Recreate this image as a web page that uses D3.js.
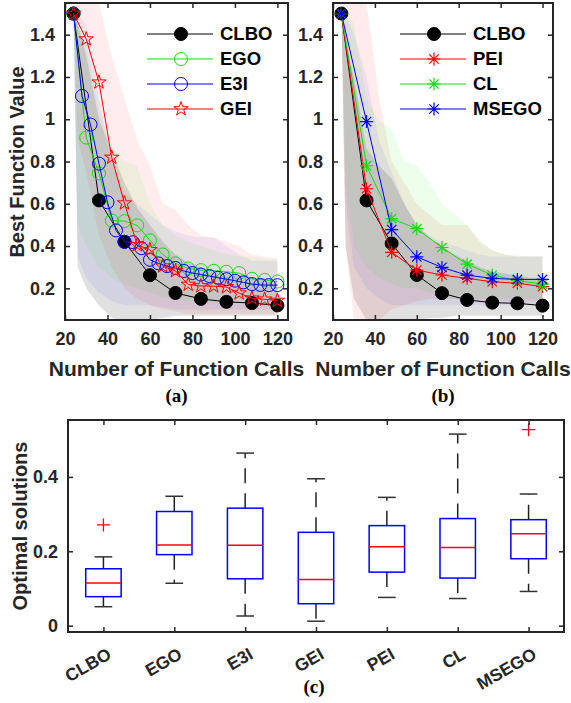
<!DOCTYPE html>
<html>
<head>
<meta charset="utf-8">
<script src="https://cdn.jsdelivr.net/npm/d3@7"></script>
<style>
  body { margin: 0; background: #fff; }
  svg { display: block; font-family: "Liberation Sans", Arial, sans-serif; }
</style>
</head>
<body>
<svg width="571" height="703"></svg>
<script>
// ---- data ----
const calls12 = [24, 36, 48, 60, 72, 84, 96, 108, 120];
const calls6 = [24, 30, 36, 42, 48, 54, 60, 66, 72, 78, 84, 90, 96, 102, 108, 114, 120];
const calls4 = [24, 28, 32, 36, 40, 44, 48, 52, 56, 60, 64, 68, 72, 76, 80, 84, 88, 92, 96, 100, 104, 108, 112, 116, 120];
const bandCalls = [24, 26, 30, 36, 42, 48, 54, 60, 66, 72, 78, 84, 90, 96, 102, 108, 114, 120];

// panel (a)
const clboA = [1.5, 0.616, 0.42, 0.262, 0.178, 0.15, 0.136, 0.13, 0.119];
const egoA = [1.5, 0.913, 0.744, 0.521, 0.518, 0.498, 0.427, 0.36, 0.318, 0.294, 0.286, 0.283, 0.278, 0.272, 0.245, 0.24, 0.232];
const e3iA = [1.5, 1.11, 0.975, 0.79, 0.607, 0.474, 0.42, 0.418, 0.39, 0.335, 0.318, 0.305, 0.296, 0.282, 0.272, 0.265, 0.258, 0.25, 0.243, 0.236, 0.228, 0.22, 0.216, 0.215, 0.215];
const geiA = [1.5, 1.379, 1.175, 0.819, 0.603, 0.405, 0.382, 0.305, 0.282, 0.218, 0.211, 0.21, 0.206, 0.177, 0.153, 0.148, 0.142];

const clboAHi = [1.5, 1.45, 1.3, 1.0, 0.85, 0.7, 0.58, 0.5, 0.42, 0.36, 0.32, 0.3, 0.28, 0.27, 0.26, 0.25, 0.24, 0.23];
const clboALo = [1.5, 0.3, 0.2, 0.12, 0.06, 0.04, 0.04, 0.05, 0.06, 0.07, 0.07, 0.07, 0.07, 0.07, 0.07, 0.07, 0.07, 0.07];
const egoAHi = [1.5, 1.45, 1.35, 1.05, 0.85, 0.8, 0.78, 0.6, 0.5, 0.45, 0.42, 0.4, 0.38, 0.36, 0.35, 0.35, 0.34, 0.34];
const egoALo = [1.5, 0.5, 0.4, 0.3, 0.25, 0.22, 0.2, 0.18, 0.16, 0.15, 0.14, 0.14, 0.13, 0.13, 0.13, 0.12, 0.12, 0.12];
const e3iAHi = [1.5, 1.5, 1.45, 1.1, 0.8, 0.65, 0.6, 0.55, 0.5, 0.47, 0.45, 0.44, 0.44, 0.4, 0.36, 0.33, 0.33, 0.33];
const e3iALo = [1.5, 0.35, 0.25, 0.18, 0.14, 0.12, 0.12, 0.12, 0.11, 0.1, 0.1, 0.1, 0.1, 0.1, 0.1, 0.1, 0.1, 0.1];
const geiAHi = [1.55, 1.55, 1.55, 1.55, 1.3, 1.1, 0.9, 0.78, 0.6, 0.57, 0.5, 0.45, 0.44, 0.42, 0.4, 0.36, 0.35, 0.34];
const geiALo = [1.5, 0.9, 0.75, 0.45, 0.3, 0.2, 0.15, 0.12, 0.1, 0.09, 0.08, 0.08, 0.08, 0.08, 0.08, 0.08, 0.08, 0.08];

// panel (b)
const clboB = [1.5, 0.616, 0.412, 0.263, 0.177, 0.145, 0.132, 0.129, 0.118];
const peiB = [1.5, 0.671, 0.37, 0.286, 0.263, 0.247, 0.231, 0.224, 0.208];
const clB = [1.5, 0.78, 0.53, 0.482, 0.393, 0.314, 0.263, 0.236, 0.22];
const msegoB = [1.5, 0.989, 0.478, 0.349, 0.299, 0.262, 0.247, 0.242, 0.242];

const clboBHi = [1.5, 1.35, 1.2, 0.86, 0.78, 0.72, 0.6, 0.5, 0.44, 0.4, 0.36, 0.33, 0.3, 0.28, 0.27, 0.26, 0.25, 0.25];
const clboBLo = [1.5, 0.4, 0.15, 0.05, 0.03, 0.03, 0.04, 0.05, 0.06, 0.06, 0.07, 0.07, 0.07, 0.07, 0.07, 0.07, 0.07, 0.07];
const peiBHi = [1.55, 1.55, 1.55, 1.55, 1.1, 0.8, 0.7, 0.6, 0.55, 0.5, 0.5, 0.5, 0.42, 0.38, 0.36, 0.35, 0.35, 0.35];
const peiBLo = [1.5, 0.4, 0.05, 0.03, 0.05, 0.1, 0.12, 0.14, 0.15, 0.15, 0.15, 0.14, 0.14, 0.14, 0.14, 0.14, 0.14, 0.14];
const clBHi = [1.5, 1.5, 1.45, 1.1, 0.99, 0.95, 0.8, 0.78, 0.7, 0.6, 0.55, 0.5, 0.43, 0.38, 0.36, 0.355, 0.35, 0.35];
const clBLo = [1.5, 0.7, 0.4, 0.3, 0.25, 0.22, 0.2, 0.2, 0.18, 0.16, 0.15, 0.15, 0.15, 0.15, 0.15, 0.15, 0.15, 0.15];
const msegoBHi = [1.5, 1.5, 1.4, 1.2, 0.9, 0.75, 0.6, 0.5, 0.45, 0.42, 0.4, 0.38, 0.36, 0.35, 0.35, 0.35, 0.35, 0.35];
const msegoBLo = [1.5, 0.6, 0.3, 0.2, 0.15, 0.12, 0.12, 0.12, 0.12, 0.12, 0.12, 0.12, 0.12, 0.12, 0.12, 0.12, 0.12, 0.12];

const xTicks = [20, 40, 60, 80, 100, 120];
const yTicks = [0.2, 0.4, 0.6, 0.8, 1, 1.2, 1.4];

// panel (c) box plot stats
const methods = ["CLBO", "EGO", "E3I", "GEI", "PEI", "CL", "MSEGO"];
const whiskerLow = [0.051, 0.114, 0.026, 0.012, 0.076, 0.073, 0.092];
const quart1 = [0.078, 0.191, 0.126, 0.059, 0.144, 0.128, 0.180];
const medians = [0.115, 0.217, 0.216, 0.124, 0.212, 0.210, 0.247];
const quart3 = [0.153, 0.307, 0.316, 0.251, 0.269, 0.288, 0.285];
const whiskerHigh = [0.185, 0.348, 0.464, 0.395, 0.345, 0.515, 0.354];
const outliers = [[0.271], [], [], [], [], [], [0.527]];
const boxTicks = [0, 0.2, 0.4];

// ---- setup ----
const svg = d3.select("svg");
const ink = "#262626";
const GREEN = "#12dd12", BLUE = "#0000ff", RED = "#ff0000", BLACK = "#000000";

// marker drawing helpers
function pentagram(r) {
  const pts = [];
  for (let i = 0; i < 10; i++) {
    const rr = i % 2 === 0 ? r : r * 0.382;
    const a = -Math.PI / 2 + i * Math.PI / 5;
    pts.push([rr * Math.cos(a), rr * Math.sin(a)]);
  }
  return "M" + pts.map(p => p.join(",")).join("L") + "Z";
}
function asterisk(r) {
  const d = r * 0.72;
  return `M${-r},0L${r},0M0,${-r}L0,${r}M${-d},${-d}L${d},${d}M${-d},${d}L${d},${-d}`;
}
function drawMarker(g, x, y, type, color) {
  if (type === "dot") {
    g.append("circle").attr("cx", x).attr("cy", y).attr("r", 6.5).attr("fill", "#000").attr("stroke", "#000");
  } else if (type === "ring") {
    g.append("circle").attr("cx", x).attr("cy", y).attr("r", 6.5).attr("fill", "none").attr("stroke", color).attr("stroke-width", 1);
  } else if (type === "star") {
    g.append("path").attr("d", pentagram(7.5)).attr("transform", `translate(${x},${y})`)
      .attr("fill", "none").attr("stroke", color).attr("stroke-width", 1);
  } else if (type === "ast") {
    g.append("path").attr("d", asterisk(6.5)).attr("transform", `translate(${x},${y})`)
      .attr("fill", "none").attr("stroke", color).attr("stroke-width", 1.2);
  }
}

function convergencePanel(id, left, right, series, legendX) {
  const top = 3, bottom = 320;
  const x = d3.scaleLinear().domain([20, 125]).range([left, right]);
  const y = d3.scaleLinear().domain([0.05, 1.55]).range([bottom, top]);

  svg.append("clipPath").attr("id", "clip" + id)
    .append("rect").attr("x", left).attr("y", top).attr("width", right - left).attr("height", bottom - top);

  const plot = svg.append("g").attr("clip-path", `url(#clip${id})`);

  // shaded ranges
  const area = d3.area()
    .x(d => x(d[0])).y0(d => y(d[1])).y1(d => y(d[2]));
  series.forEach(s => {
    const pts = bandCalls.map((c, i) => [c, s.lo[i], s.hi[i]]);
    plot.append("path").attr("d", area(pts))
      .attr("fill", s.band).attr("fill-opacity", s.alpha);
  });

  // lines + markers
  const line = d3.line().x(d => x(d[0])).y(d => y(d[1]));
  series.forEach(s => {
    const pts = s.calls.map((c, i) => [c, s.vals[i]]);
    plot.append("path").attr("d", line(pts)).attr("fill", "none")
      .attr("stroke", s.color).attr("stroke-width", 1);
    const mg = plot.append("g");
    pts.forEach(p => drawMarker(mg, x(p[0]), y(p[1]), s.marker, s.color));
  });

  // axes with inward ticks on all sides
  const ax = svg.append("g");
  ax.append("g").attr("transform", `translate(0,${bottom})`)
    .call(d3.axisBottom(x).tickValues(xTicks).tickSizeInner(-5).tickSizeOuter(0).tickPadding(12))
    .call(g => g.select(".domain").remove());
  ax.append("g").attr("transform", `translate(0,${top})`)
    .call(d3.axisTop(x).tickValues(xTicks).tickSizeInner(-5).tickSizeOuter(0).tickFormat(""))
    .call(g => g.select(".domain").remove());
  ax.append("g").attr("transform", `translate(${left},0)`)
    .call(d3.axisLeft(y).tickValues(yTicks).tickSizeInner(-5).tickSizeOuter(0).tickPadding(10).tickFormat(d3.format("~g")))
    .call(g => g.select(".domain").remove());
  ax.append("g").attr("transform", `translate(${right},0)`)
    .call(d3.axisRight(y).tickValues(yTicks).tickSizeInner(-5).tickSizeOuter(0).tickFormat(""))
    .call(g => g.select(".domain").remove());
  ax.selectAll(".tick line").attr("stroke", ink).attr("stroke-width", 1.5);
  ax.selectAll(".tick text").attr("fill", ink).attr("font-size", 18).attr("font-weight", "bold")
    .attr("font-family", "Liberation Sans, Arial, sans-serif");
  ax.append("rect").attr("x", left).attr("y", top).attr("width", right - left).attr("height", bottom - top)
    .attr("fill", "none").attr("stroke", ink).attr("stroke-width", 2);

  svg.append("text").attr("x", (left + right) / 2).attr("y", 376).attr("text-anchor", "middle")
    .attr("font-size", 21).attr("font-weight", "bold").attr("fill", ink)
    .text("Number of Function Calls");
  svg.append("text").attr("x", (left + right) / 2).attr("y", 402).attr("text-anchor", "middle")
    .attr("font-family", "Liberation Serif, Times New Roman, serif")
    .attr("font-size", 19).attr("font-weight", "bold").attr("fill", "#000")
    .text(`(${id})`);

  // legend
  const lg = svg.append("g");
  series.forEach((s, i) => {
    const ly = 34 + i * 25;
    lg.append("line").attr("x1", legendX).attr("x2", legendX + 66).attr("y1", ly).attr("y2", ly)
      .attr("stroke", s.color).attr("stroke-width", 1);
    drawMarker(lg, legendX + 34, ly, s.marker, s.color);
    lg.append("text").attr("x", legendX + 73).attr("y", ly).attr("dy", "0.35em")
      .attr("font-size", 18.5).attr("font-weight", "bold").attr("fill", "#000").text(s.name);
  });
}

convergencePanel("a", 65, 288, [
  { name: "CLBO", calls: calls12, vals: clboA, hi: clboAHi, lo: clboALo, color: BLACK, band: "#000", alpha: 0.12, marker: "dot" },
  { name: "EGO", calls: calls6, vals: egoA, hi: egoAHi, lo: egoALo, color: GREEN, band: "#00ff00", alpha: 0.07, marker: "ring" },
  { name: "E3I", calls: calls4, vals: e3iA, hi: e3iAHi, lo: e3iALo, color: BLUE, band: "#0000ff", alpha: 0.06, marker: "ring" },
  { name: "GEI", calls: calls6, vals: geiA, hi: geiAHi, lo: geiALo, color: RED, band: "#ff0000", alpha: 0.07, marker: "star" }
], 147);

convergencePanel("b", 333, 553, [
  { name: "CLBO", calls: calls12, vals: clboB, hi: clboBHi, lo: clboBLo, color: BLACK, band: "#000", alpha: 0.12, marker: "dot" },
  { name: "PEI", calls: calls12, vals: peiB, hi: peiBHi, lo: peiBLo, color: RED, band: "#ff0000", alpha: 0.08, marker: "ast" },
  { name: "CL", calls: calls12, vals: clB, hi: clBHi, lo: clBLo, color: GREEN, band: "#00ff00", alpha: 0.08, marker: "ast" },
  { name: "MSEGO", calls: calls12, vals: msegoB, hi: msegoBHi, lo: msegoBLo, color: BLUE, band: "#0000ff", alpha: 0.06, marker: "ast" }
], 400);

// y label shared by (a)
svg.append("text").attr("transform", "translate(24,162) rotate(-90)").attr("text-anchor", "middle")
  .attr("font-size", 20).attr("font-weight", "bold").attr("fill", ink).text("Best Function Value");

// ---- panel (c): box plot ----
const cLeft = 68, cRight = 564, cTop = 420, cBottom = 632;
const xc = d3.scalePoint().domain(methods).range([cLeft, cRight]).padding(0.5);
const yc = d3.scaleLinear().domain([-0.017, 0.553]).range([cBottom, cTop]);
const step = xc.step();
const boxW = step * 0.5, capW = step * 0.25;

const boxes = svg.append("g");
methods.forEach((m, i) => {
  const cx = xc(m);
  const g = boxes.append("g");
  // whiskers (dashed from box outward)
  g.append("line").attr("x1", cx).attr("x2", cx).attr("y1", yc(quart3[i])).attr("y2", yc(whiskerHigh[i]))
    .attr("stroke", "#222").attr("stroke-width", 1.5).attr("stroke-dasharray", "15,10");
  g.append("line").attr("x1", cx).attr("x2", cx).attr("y1", yc(quart1[i])).attr("y2", yc(whiskerLow[i]))
    .attr("stroke", "#222").attr("stroke-width", 1.5).attr("stroke-dasharray", "15,10");
  [whiskerHigh[i], whiskerLow[i]].forEach(v => {
    g.append("line").attr("x1", cx - capW / 2).attr("x2", cx + capW / 2).attr("y1", yc(v)).attr("y2", yc(v))
      .attr("stroke", "#333").attr("stroke-width", 1.5);
  });
  g.append("rect").attr("x", cx - boxW / 2).attr("width", boxW)
    .attr("y", yc(quart3[i])).attr("height", yc(quart1[i]) - yc(quart3[i]))
    .attr("fill", "none").attr("stroke", BLUE).attr("stroke-width", 1.5);
  g.append("line").attr("x1", cx - boxW / 2).attr("x2", cx + boxW / 2)
    .attr("y1", yc(medians[i])).attr("y2", yc(medians[i]))
    .attr("stroke", RED).attr("stroke-width", 1.5);
  outliers[i].forEach(v => {
    g.append("path").attr("d", "M-6.5,0L6.5,0M0,-6.5L0,6.5")
      .attr("transform", `translate(${cx},${yc(v)})`)
      .attr("stroke", RED).attr("stroke-width", 1.3).attr("fill", "none");
  });
});

const cax = svg.append("g");
cax.append("g").attr("transform", `translate(0,${cBottom})`)
  .call(d3.axisBottom(xc).tickSizeInner(-5).tickSizeOuter(0).tickFormat(""))
  .call(g => g.select(".domain").remove());
cax.append("g").attr("transform", `translate(0,${cTop})`)
  .call(d3.axisTop(xc).tickSizeInner(-5).tickSizeOuter(0).tickFormat(""))
  .call(g => g.select(".domain").remove());
cax.append("g").attr("transform", `translate(${cLeft},0)`)
  .call(d3.axisLeft(yc).tickValues(boxTicks).tickSizeInner(-5).tickSizeOuter(0).tickPadding(10).tickFormat(d3.format("~g")))
  .call(g => g.select(".domain").remove());
cax.append("g").attr("transform", `translate(${cRight},0)`)
  .call(d3.axisRight(yc).tickValues(boxTicks).tickSizeInner(-5).tickSizeOuter(0).tickFormat(""))
  .call(g => g.select(".domain").remove());
cax.selectAll(".tick line").attr("stroke", ink).attr("stroke-width", 1.5);
cax.selectAll(".tick text").attr("fill", ink).attr("font-size", 18).attr("font-weight", "bold")
  .attr("font-family", "Liberation Sans, Arial, sans-serif");
cax.append("rect").attr("x", cLeft).attr("y", cTop).attr("width", cRight - cLeft).attr("height", cBottom - cTop)
  .attr("fill", "none").attr("stroke", ink).attr("stroke-width", 2);

// rotated category labels
svg.append("g").selectAll("text").data(methods).join("text")
  .attr("transform", d => `translate(${xc(d) + 3},${cBottom + 15}) rotate(-30)`)
  .attr("text-anchor", "end").attr("dy", "0.7em")
  .attr("font-size", 17.5).attr("font-weight", "bold").attr("fill", ink)
  .text(d => d);

svg.append("text").attr("transform", `translate(20,${(cTop + cBottom) / 2}) rotate(-90)`)
  .attr("text-anchor", "middle").attr("dy", "0.35em")
  .attr("font-size", 20).attr("font-weight", "bold").attr("fill", ink).text("Optimal solutions");

svg.append("text").attr("x", 314).attr("y", 693).attr("text-anchor", "middle")
  .attr("font-family", "Liberation Serif, Times New Roman, serif")
  .attr("font-size", 19).attr("font-weight", "bold").attr("fill", "#000").text("(c)");
</script>
</body>
</html>
